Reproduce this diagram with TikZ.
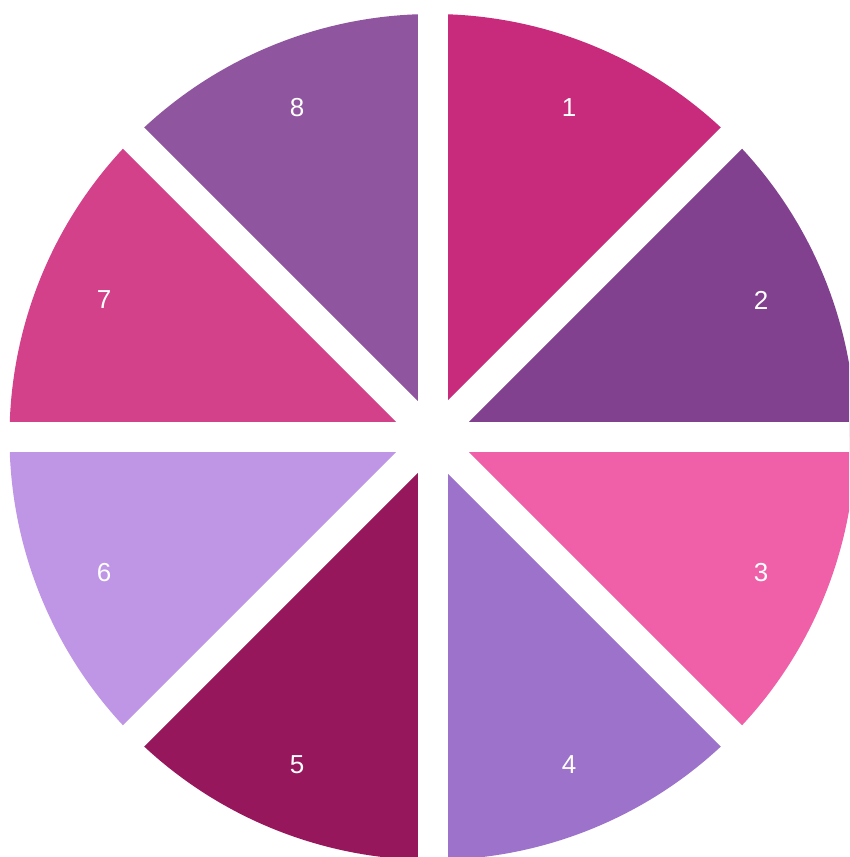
\documentclass[tikz,border=0pt]{standalone}
\usepackage{fontspec}
\setmainfont{Liberation Sans}
\usetikzlibrary{calc}
\begin{document}
\begin{tikzpicture}[x=1pt,y=-1pt,
  lbl/.style={text=white,font=\fontsize{26}{26}\selectfont,inner sep=0pt},
  gap/.style={draw=white,line width=30pt}]
\useasboundingbox (0,0) rectangle (849,857);
\clip (0,0) rectangle (849,857);
\coordinate (c) at (432.5,437);
\def\R{423}
\definecolor{c1}{RGB}{200,42,124}
\definecolor{c2}{RGB}{130,65,143}
\definecolor{c3}{RGB}{239,96,168}
\definecolor{c4}{RGB}{156,114,203}
\definecolor{c5}{RGB}{151,23,93}
\definecolor{c6}{RGB}{191,149,230}
\definecolor{c7}{RGB}{210,65,137}
\definecolor{c8}{RGB}{143,85,159}
\fill[c1] (c) -- ++(-90:\R) arc[start angle=-90,end angle=-45,radius=\R] -- cycle;
\fill[c2] (c) -- ++(-45:\R) arc[start angle=-45,end angle=0,radius=\R] -- cycle;
\fill[c3] (c) -- ++(0:\R) arc[start angle=0,end angle=45,radius=\R] -- cycle;
\fill[c4] (c) -- ++(45:\R) arc[start angle=45,end angle=90,radius=\R] -- cycle;
\fill[c5] (c) -- ++(90:\R) arc[start angle=90,end angle=135,radius=\R] -- cycle;
\fill[c6] (c) -- ++(135:\R) arc[start angle=135,end angle=180,radius=\R] -- cycle;
\fill[c7] (c) -- ++(180:\R) arc[start angle=180,end angle=225,radius=\R] -- cycle;
\fill[c8] (c) -- ++(225:\R) arc[start angle=225,end angle=270,radius=\R] -- cycle;
% gaps
\foreach \a in {0,45,90,135}{
  \draw[gap] ($(c)+(\a:440)$) -- ($(c)+(\a+180:440)$);
}
% labels
\node[lbl] (l1) at (569,108) {1};
\node[lbl] (l2) at (761,300) {2};
\node[lbl] (l3) at (761,573) {3};
\node[lbl] (l4) at (569,765) {4};
\node[lbl] (l5) at (297,765) {5};
\node[lbl] (l6) at (104,573) {6};
\node[lbl] (l7) at (104,300) {7};
\node[lbl] (l8) at (297,108) {8};
\end{tikzpicture}
\end{document}
